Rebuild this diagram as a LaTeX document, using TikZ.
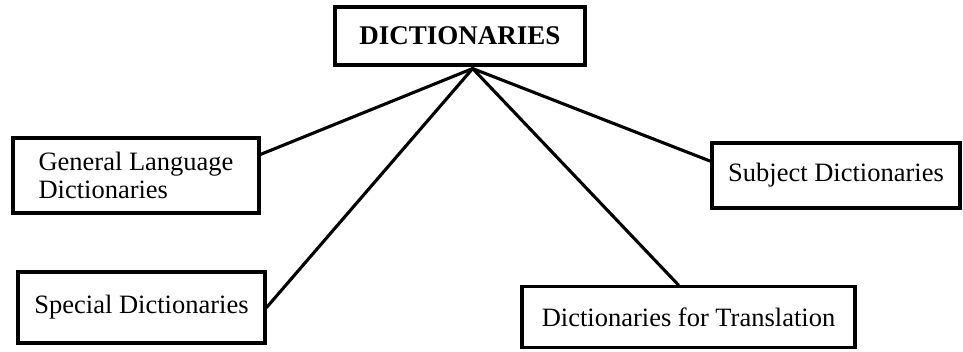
\documentclass[tikz,border=0pt]{standalone}
\usepackage{fontspec}
\setmainfont{Liberation Serif}
\usetikzlibrary{calc}
\tikzset{
  box/.style={draw=black, line width=3.1pt, inner sep=0pt, align=left,
    font=\fontsize{26.5}{28}\selectfont},
  topbox/.style={box, font=\fontsize{27}{30}\selectfont\bfseries},
  link/.style={draw=black, line width=3.1pt, line cap=round}
}
\begin{document}
\begin{tikzpicture}[x=1pt,y=-1pt]
\useasboundingbox[fill=white] (0,0) rectangle (963,351);
\node[topbox, minimum width=250pt, minimum height=58pt] (top) at (460,36) {DICTIONARIES};
\node[box, minimum width=246pt, minimum height=75pt] (gen) at (136,175.5) {General Language\\Dictionaries};
\node[box, minimum width=247pt, minimum height=71pt] (spec) at (141.5,307.5) {Special Dictionaries};
\node[box, minimum width=248pt, minimum height=65pt] (subj) at (836,175.5) {Subject Dictionaries};
\node[box, minimum width=333pt, minimum height=61pt] (trans) at (688.5,317) {Dictionaries for Translation};
\coordinate (hub) at ($(top.south west)!0.55!(top.south east)+(0,2)$);
\draw[link] ($(gen.north east)!0.23!(gen.south east)$) -- (hub);
\draw[link] (spec.east) -- (hub);
\draw[link] ($(subj.north west)!0.29!(subj.south west)$) -- (hub);
\draw[link] ($(trans.north west)!0.47!(trans.north east)$) -- (hub);
\end{tikzpicture}
\end{document}
